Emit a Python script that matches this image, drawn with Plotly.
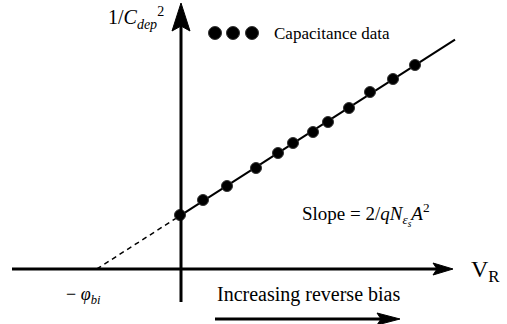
import numpy as np
import plotly.graph_objects as go

# Capacitance data (arbitrary units): reverse bias V_R and 1/C_dep^2
v_r = [-1, 22, 46, 75, 97, 112, 132, 147, 168, 189, 212, 234]
inv_c2 = [54, 69, 83, 101, 116, 126, 137, 147, 161, 177, 190, 204]
fit_end = 274  # extent of the fitted line along V_R

slope, intercept = np.polyfit(v_r, inv_c2, 1)
phi_bi = -intercept / slope  # x-intercept (negative)

FONT = "Times New Roman, Liberation Serif, DejaVu Serif, serif"
fig = go.Figure()

# fitted line (solid over reverse bias region)
xs = np.array([0, fit_end])
fig.add_trace(go.Scatter(x=xs, y=intercept + slope * xs, mode="lines",
                         line=dict(color="black", width=2), hoverinfo="skip"))
# extrapolation (dashed) to -phi_bi
xd = np.array([phi_bi, 0])
fig.add_trace(go.Scatter(x=xd, y=intercept + slope * xd, mode="lines",
                         line=dict(color="black", width=1.5, dash="5px,4px"), hoverinfo="skip"))
# data points
fig.add_trace(go.Scatter(x=v_r, y=inv_c2, mode="markers",
                         marker=dict(color="black", size=11, line=dict(color="#333", width=1))))
# legend key (three dots)
fig.add_trace(go.Scatter(x=[34, 52, 71], y=[236, 236, 236], mode="markers",
                         marker=dict(color="black", size=13, line=dict(color="#333", width=1))))

shapes = [
    # horizontal axis
    dict(type="line", x0=-169, y0=0, x1=258, y1=0, line=dict(color="black", width=3)),
    dict(type="path", path="M 272,0 L 252,6 L 256,0 L 252,-6 Z", fillcolor="black",
         line=dict(color="black", width=1)),
    # vertical axis
    dict(type="line", x0=0, y0=-33, x1=0, y1=245, line=dict(color="black", width=3)),
    dict(type="path", path="M 0,266 L -9,238 L 0,243 L 9,238 Z", fillcolor="black",
         line=dict(color="black", width=1)),
    # increasing reverse bias arrow
    dict(type="line", x0=34, y0=-50, x1=205, y1=-50, line=dict(color="black", width=3)),
    dict(type="path", path="M 219,-50 L 196,-44 L 200,-50 L 196,-56 Z", fillcolor="black",
         line=dict(color="black", width=1)),
]

annotations = [
    dict(x=-15, y=251, text="1/<i>C</i><sub><i>dep</i></sub><sup>2</sup>", showarrow=False,
         xanchor="right", font=dict(family=FONT, size=20, color="black")),
    dict(x=91, y=236, text="Capacitance data", showarrow=False, xanchor="left",
         font=dict(family=FONT, size=17, color="black")),
    dict(x=119, y=55, text="Slope = 2/<i>qN</i><sub><i>ε<sub>s</sub></i></sub><i>A</i><sup>2</sup>",
         showarrow=False, xanchor="left", font=dict(family=FONT, size=19, color="black")),
    dict(x=288, y=-2, text="V<sub>R</sub>", showarrow=False, xanchor="left",
         font=dict(family=FONT, size=24, color="black")),
    dict(x=-117, y=-26, text="− <i>φ</i><sub><i>bi</i></sub>", showarrow=False, xanchor="left",
         font=dict(family=FONT, size=18, color="black")),
    dict(x=34, y=-25, text="Increasing reverse bias", showarrow=False, xanchor="left",
         font=dict(family=FONT, size=20, color="black")),
]

fig.update_layout(
    width=507, height=324, margin=dict(l=0, r=0, t=0, b=0),
    paper_bgcolor="white", plot_bgcolor="white", showlegend=False,
    font=dict(family=FONT),
    xaxis=dict(range=[-181, 326], visible=False, fixedrange=True),
    yaxis=dict(range=[-55, 269], visible=False, fixedrange=True),
    shapes=shapes, annotations=annotations,
)
fig.write_html("out.html")
